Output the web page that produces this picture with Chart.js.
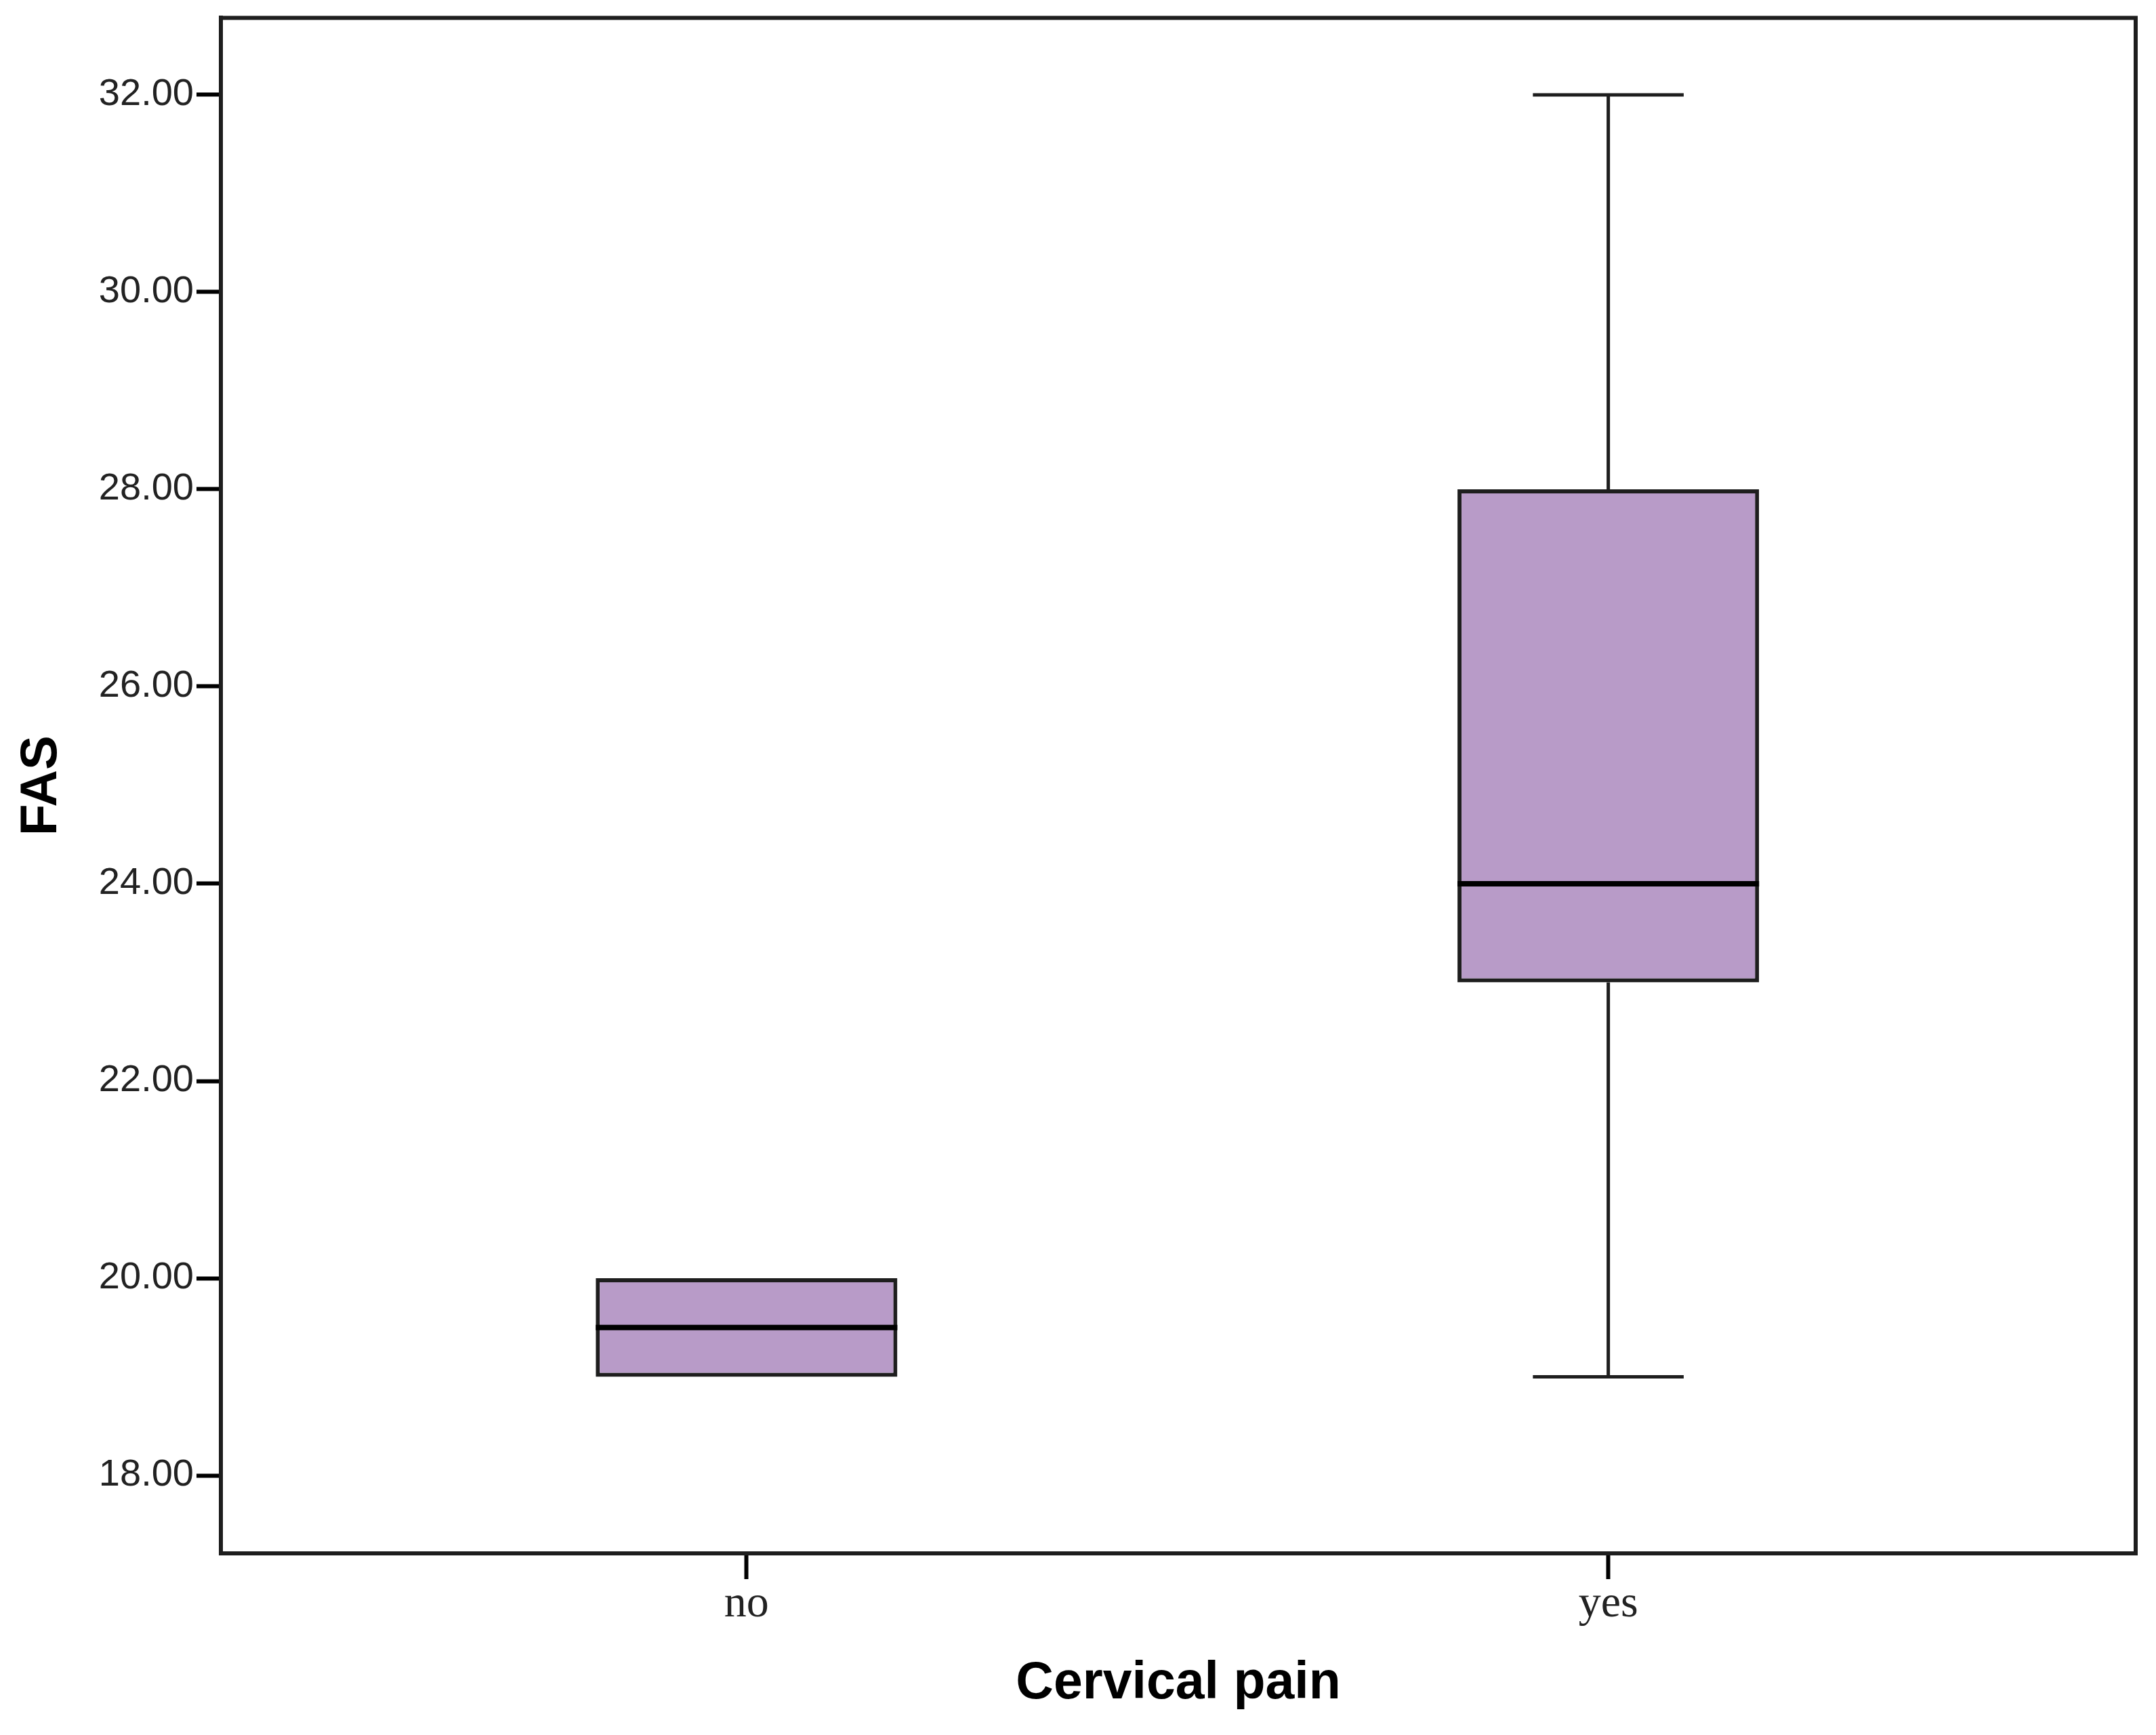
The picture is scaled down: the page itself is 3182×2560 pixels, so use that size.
<!DOCTYPE html>
<html>
<head>
<meta charset="utf-8">
<title>FAS by cervical pain</title>
<script src="https://cdn.jsdelivr.net/npm/chart.js@4.4.1/dist/chart.umd.min.js"></script>
<style>
  html, body { margin: 0; padding: 0; background: #fff; }
  #wrap { width: 3182px; height: 2560px; }
</style>
</head>
<body>
<div id="wrap"><canvas id="box-chart"></canvas></div>
<script>
// groups and box statistics
const groups = ['no', 'yes'];
const minValues = [19, 19];
const q1Values = [19, 23];
const medianValues = [19.5, 24];
const q3Values = [20, 28];
const maxValues = [20, 32];
const yTicks = [18, 20, 22, 24, 26, 28, 30, 32];

const boxColor = '#b89bc8';
const lineColor = '#1e1e1e';

// whiskers, caps and medians drawn on top of the floating bars
const boxPlotExtras = {
    id: 'boxPlotExtras',
    afterDatasetsDraw(chart) {
        const ctx = chart.ctx;
        const y = chart.scales.y;
        const meta = chart.getDatasetMeta(0);
        ctx.save();
        meta.data.forEach(function (bar, i) {
            const cx = bar.x;
            const half = bar.width / 2;
            const capHalf = bar.width / 4;
            const yMin = y.getPixelForValue(minValues[i]);
            const yQ1 = y.getPixelForValue(q1Values[i]);
            const yQ3 = y.getPixelForValue(q3Values[i]);
            const yMax = y.getPixelForValue(maxValues[i]);
            const yMed = y.getPixelForValue(medianValues[i]);

            ctx.strokeStyle = lineColor;
            ctx.lineWidth = 5;
            ctx.beginPath();
            if (maxValues[i] > q3Values[i]) {
                ctx.moveTo(cx, yQ3); ctx.lineTo(cx, yMax);
                ctx.moveTo(cx - capHalf, yMax); ctx.lineTo(cx + capHalf, yMax);
            }
            if (minValues[i] < q1Values[i]) {
                ctx.moveTo(cx, yQ1); ctx.lineTo(cx, yMin);
                ctx.moveTo(cx - capHalf, yMin); ctx.lineTo(cx + capHalf, yMin);
            }
            ctx.stroke();

            // median
            ctx.lineWidth = 8;
            ctx.strokeStyle = '#000';
            ctx.beginPath();
            ctx.moveTo(cx - half, yMed); ctx.lineTo(cx + half, yMed);
            ctx.stroke();
        });
        ctx.restore();
    },
    afterDraw(chart) {
        // closing frame around the plot area
        const a = chart.chartArea;
        const ctx = chart.ctx;
        ctx.save();
        ctx.strokeStyle = lineColor;
        ctx.lineWidth = 6;
        ctx.strokeRect(a.left, a.top, a.right - a.left, a.bottom - a.top);
        ctx.restore();
    }
};

const canvas = document.getElementById('box-chart');
const chart = new Chart(canvas.getContext('2d'), {
    type: 'bar',
    data: {
        datasets: [{
            label: 'FAS',
            data: groups.map(function (g, i) { return { x: i, y: [q1Values[i], q3Values[i]] }; }),
            backgroundColor: boxColor,
            borderColor: lineColor,
            borderWidth: 6,
            borderSkipped: false,
            categoryPercentage: 1,
            barPercentage: 0.35
        }]
    },
    options: {
        responsive: true,
        maintainAspectRatio: false,
        animation: false,
        events: [],
        layout: { padding: { top: 26, right: 30, left: 0, bottom: 0 } },
        plugins: {
            legend: { display: false },
            tooltip: { enabled: false }
        },
        scales: {
            x: {
                type: 'linear',
                offset: false,
                min: -0.61,
                max: 1.612,
                afterBuildTicks: function (scale) {
                    scale.ticks = groups.map(function (g, i) { return { value: i }; });
                },
                afterFit: function (scale) { scale.height = 268; },
                ticks: {
                    callback: function (v) { return groups[v]; },
                    font: { family: '"Liberation Serif", "Times New Roman", serif', size: 66 },
                    color: '#222',
                    padding: -2,
                    maxRotation: 0
                },
                grid: { offset: false, drawOnChartArea: false, drawTicks: true, tickLength: 38, tickWidth: 6, tickColor: '#000' },
                border: { display: true, color: lineColor, width: 6 },
                title: {
                    display: true,
                    text: 'Cervical pain',
                    font: { family: '"Liberation Sans", Arial, sans-serif', size: 77, weight: 'bold', lineHeight: 1 },
                    color: '#000',
                    padding: { top: 0, bottom: 37 }
                }
            },
            y: {
                min: 17.21,
                max: 32.78,
                afterBuildTicks: function (scale) {
                    scale.ticks = yTicks.map(function (v) { return { value: v }; });
                },
                afterFit: function (scale) { scale.width = 326; },
                ticks: {
                    callback: function (v) { return Number(v).toFixed(2); },
                    font: { family: '"Liberation Sans", Arial, sans-serif', size: 56, lineHeight: 0.8 },
                    color: '#222',
                    padding: 4
                },
                grid: { drawOnChartArea: false, drawTicks: true, tickLength: 36, tickWidth: 6, tickColor: '#000' },
                border: { display: true, color: lineColor, width: 6 },
                title: {
                    display: true,
                    text: 'FAS',
                    font: { family: '"Liberation Sans", Arial, sans-serif', size: 76, weight: 'bold', lineHeight: 1 },
                    color: '#000',
                    padding: { top: 24, bottom: 0 }
                }
            }
        }
    },
    plugins: [boxPlotExtras]
});
</script>
</body>
</html>
